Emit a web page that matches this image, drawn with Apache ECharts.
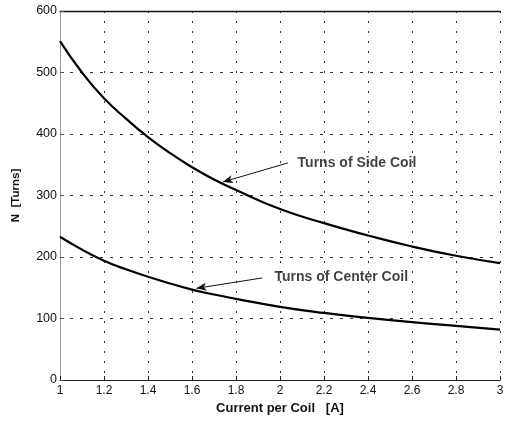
<!DOCTYPE html>
<html>
<head>
<meta charset="utf-8">
<script src="https://cdn.jsdelivr.net/npm/echarts@6/dist/echarts.min.js"></script>
<style>html,body{margin:0;padding:0;background:#fff;}#c{width:511px;height:421px;}</style>
</head>
<body>
<div id="c"></div>
<script>
const sideX = [1, 1.1, 1.2, 1.3, 1.4, 1.5, 1.6, 1.7, 1.8, 2.0, 2.2, 2.4, 2.6, 2.8, 3];
const sideY = [551, 500, 458, 425, 395, 369, 346, 326, 309, 278, 255, 235, 217, 202, 190];
const centerX = [1, 1.1, 1.2, 1.3, 1.4, 1.5, 1.6, 1.7, 1.8, 2.0, 2.2, 2.4, 2.6, 2.8, 3];
const centerY = [233, 212, 194, 180, 168, 157, 147, 139, 132, 119, 109, 101, 94, 88, 82];
const annoText = ['Turns of Side Coil', 'Turns of Center Coil'];
const annoTextPos = [[2.08, 353], [1.975, 168]];
const annoArrowFrom = [[2.036, 353], [1.92, 166]];
const annoArrowTo = [[1.74, 322], [1.62, 149]];

const font = 'Liberation Sans, Arial, sans-serif';
const chart = echarts.init(document.getElementById('c'));
const pair = (xs, ys) => xs.map((x, i) => [x, ys[i]]);

chart.setOption({
  animation: false,
  backgroundColor: '#fff',
  grid: { left: 60, right: 11, top: 11, bottom: 41 },
  xAxis: [{
    type: 'value', min: 1, max: 3, interval: 0.2,
    name: 'Current per Coil   [A]', nameLocation: 'middle', nameGap: 22,
    nameTextStyle: { fontFamily: font, fontSize: 13, fontWeight: 'bold', color: '#111' },
    axisLine: { show: true, lineStyle: { color: '#222', width: 1 } },
    axisTick: { show: true, inside: true, length: 4, lineStyle: { color: '#222' } },
    axisLabel: { fontFamily: font, fontSize: 12, color: '#111', margin: 5,
      formatter: v => String(+v.toFixed(1)) },
    splitLine: { show: true, lineStyle: { color: '#333', type: [2, 8], width: 1 } }
  }, {
    type: 'value', min: 1, max: 3, interval: 0.2, position: 'top',
    axisLine: { show: true, onZero: false, lineStyle: { color: '#111', width: 1.3 } },
    axisTick: { show: false }, axisLabel: { show: false }, splitLine: { show: false }
  }],
  yAxis: {
    type: 'value', min: 0, max: 600, interval: 100,
    name: 'N  [Turns]', nameLocation: 'middle', nameGap: 38,
    nameTextStyle: { fontFamily: font, fontSize: 11.5, fontWeight: 'bold', color: '#111' },
    axisLine: { show: true, lineStyle: { color: '#999', width: 1 } },
    axisTick: { show: true, inside: true, length: 4, lineStyle: { color: '#555' } },
    axisLabel: { fontFamily: font, fontSize: 12.5, color: '#111', margin: 3 },
    splitLine: { show: true, lineStyle: { color: '#333', type: [3, 7], width: 1 } }
  },
  series: [{
    type: 'line', data: pair(sideX, sideY), smooth: 0.5, symbol: 'none',
    lineStyle: { color: '#000', width: 2.2 }
  }, {
    type: 'line', data: pair(centerX, centerY), smooth: 0.5, symbol: 'none',
    lineStyle: { color: '#000', width: 2.2 }
  }, {
    type: 'scatter', symbolSize: 0, silent: true,
    data: annoText.map((t, i) => ({ value: annoTextPos[i], name: t })),
    label: { show: true, position: 'right', distance: 0, formatter: p => p.name,
      fontFamily: font, fontSize: 14, fontWeight: 'bold', color: '#111' },
    markLine: {
      silent: true, symbol: ['none', 'arrow'], symbolSize: [6, 10],
      label: { show: false },
      lineStyle: { color: '#111', width: 1, type: 'solid' },
      data: annoArrowFrom.map((f, i) => [{ coord: f }, { coord: annoArrowTo[i] }])
    }
  }]
});
</script>
</body>
</html>
